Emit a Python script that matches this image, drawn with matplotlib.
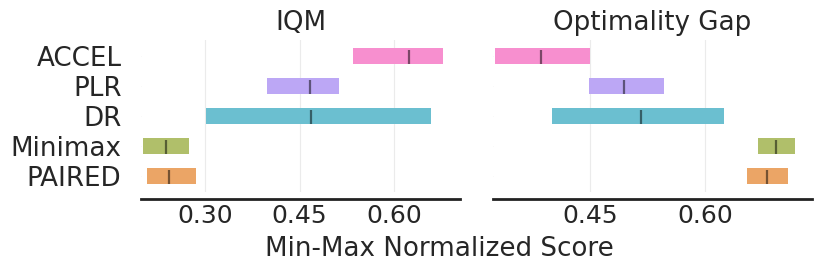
import matplotlib
matplotlib.use('Agg')
import matplotlib.pyplot as plt

# algorithms, bottom to top
algorithms = ['PAIRED', 'Minimax', 'DR', 'PLR', 'ACCEL']
colors = ['#EBA566', '#B0BF6A', '#6BBFD0', '#BCA7F5', '#F78FCF']

# IQM: point estimate and CI bounds
iqm_point = [0.2435, 0.2388, 0.4687, 0.467, 0.624]
iqm_lower = [0.2082, 0.2024, 0.3025, 0.398, 0.535]
iqm_upper = [0.2867, 0.2747, 0.6576, 0.512, 0.6775]

# Optimality gap: point estimate and CI bounds
gap_point = [0.6815, 0.6933, 0.5167, 0.4945, 0.3855]
gap_lower = [0.6545, 0.6697, 0.3995, 0.4488, 0.325]
gap_upper = [0.7085, 0.7177, 0.6248, 0.5464, 0.4492]

metric_names = ['IQM', 'Optimality Gap']
xticks = [[0.30, 0.45, 0.60], [0.45, 0.60]]
xlims = [(0.199, 0.704), (0.3224, 0.740)]

TEXT = '#262626'
FS = 18.8       # titles, y labels, x label
FS_TICK = 18    # x tick labels
height = 0.55


def draw_metric(ax, point, lower, upper, name, ticks, xlim, show_labels):
    for i in range(len(algorithms)):
        ax.barh(y=i, width=upper[i] - lower[i], height=height, left=lower[i],
                color=colors[i], linewidth=0)
        ax.vlines(x=point[i], ymin=i - 7.5 * height / 16, ymax=i + 6 * height / 16,
                  color='k', alpha=0.5, linewidth=1.6)
    ax.set_xlim(*xlim)
    ax.set_ylim(-0.53, 4.53)
    ax.set_yticks(range(len(algorithms)))
    ax.set_yticklabels(algorithms if show_labels else [])
    ax.set_xticks(ticks)
    ax.set_xticklabels(['%.2f' % t for t in ticks])
    ax.set_title(name, fontsize=FS, color=TEXT, pad=7)
    ax.grid(True, axis='x', alpha=0.25, color='#b0b0b0')
    ax.set_axisbelow(True)
    # decorate axis like rliable
    ax.spines['right'].set_visible(False)
    ax.spines['top'].set_visible(False)
    ax.spines['left'].set_visible(False)
    ax.spines['bottom'].set_linewidth(2)
    ax.spines['bottom'].set_color('#222222')
    ax.spines['bottom'].set_position(('outward', 5))
    ax.tick_params(length=0.1, width=0.1, labelcolor=TEXT)
    ax.tick_params(axis='x', labelsize=FS_TICK)
    ax.tick_params(axis='y', labelsize=FS, pad=14)


fig = plt.figure(figsize=(8.22, 2.74), dpi=100)
ax1 = fig.add_axes([0.1715, 0.299, 0.3881, 0.555])
ax2 = fig.add_axes([0.5994, 0.299, 0.3884, 0.555])

draw_metric(ax1, iqm_point, iqm_lower, iqm_upper, metric_names[0], xticks[0], xlims[0], True)
draw_metric(ax2, gap_point, gap_lower, gap_upper, metric_names[1], xticks[1], xlims[1], False)

fig.text(0.5347, 0.09, 'Min-Max Normalized Score', ha='center', va='center',
         fontsize=FS, color=TEXT)

plt.savefig('out.png', dpi=100)
plt.close()
